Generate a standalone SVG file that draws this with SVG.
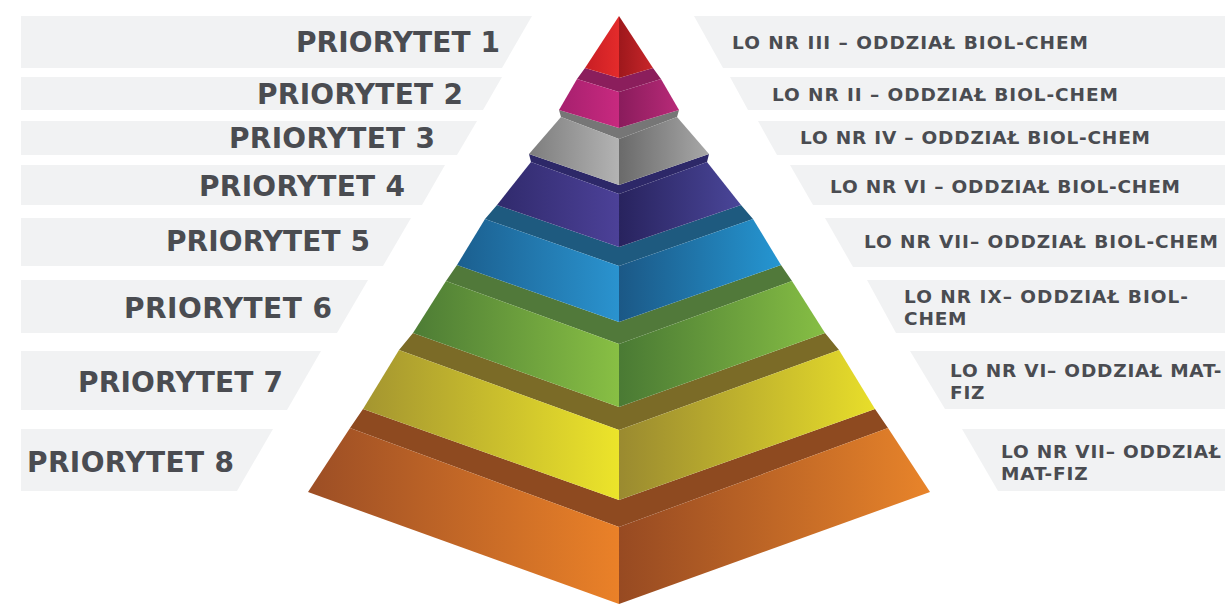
<svg xmlns="http://www.w3.org/2000/svg" width="1225" height="604" viewBox="0 0 1225 604">
<defs>
<style>
.bn{fill:#f1f2f3}
.lt{font-family:"DejaVu Sans","Liberation Sans",sans-serif;font-weight:bold;font-size:28px;fill:#4a4c51}
.rt{font-family:"DejaVu Sans","Liberation Sans",sans-serif;font-weight:bold;font-size:18.5px;fill:#4a4c51}
.ml{letter-spacing:0.8px}
</style>
<linearGradient id="oL" x1="0" x2="1" y1="0" y2="0"><stop offset="0" stop-color="#9c4e25"/><stop offset="1" stop-color="#ea8128"/></linearGradient>
<linearGradient id="oR" x1="0" x2="1" y1="0" y2="0"><stop offset="0" stop-color="#974a22"/><stop offset="1" stop-color="#e8842a"/></linearGradient>
<linearGradient id="yL" x1="0" x2="1" y1="0" y2="0"><stop offset="0" stop-color="#a49530"/><stop offset="1" stop-color="#ece42a"/></linearGradient>
<linearGradient id="yR" x1="0" x2="1" y1="0" y2="0"><stop offset="0" stop-color="#9a8a30"/><stop offset="1" stop-color="#e8de2a"/></linearGradient>
<linearGradient id="gL" x1="0" x2="1" y1="0" y2="0"><stop offset="0" stop-color="#4d7c35"/><stop offset="1" stop-color="#88bf44"/></linearGradient>
<linearGradient id="gR" x1="0" x2="1" y1="0" y2="0"><stop offset="0" stop-color="#4a7a34"/><stop offset="1" stop-color="#86be44"/></linearGradient>
<linearGradient id="bL" x1="0" x2="1" y1="0" y2="0"><stop offset="0" stop-color="#1b5f8f"/><stop offset="1" stop-color="#2a93cf"/></linearGradient>
<linearGradient id="bR" x1="0" x2="1" y1="0" y2="0"><stop offset="0" stop-color="#1b5886"/><stop offset="1" stop-color="#2596d2"/></linearGradient>
<linearGradient id="pL" x1="0" x2="1" y1="0" y2="0"><stop offset="0" stop-color="#302a6c"/><stop offset="1" stop-color="#4c4198"/></linearGradient>
<linearGradient id="pR" x1="0" x2="1" y1="0" y2="0"><stop offset="0" stop-color="#28235e"/><stop offset="1" stop-color="#4a4699"/></linearGradient>
<linearGradient id="sL" x1="0" x2="1" y1="0" y2="0"><stop offset="0" stop-color="#7d7d7d"/><stop offset="1" stop-color="#b3b3b3"/></linearGradient>
<linearGradient id="sR" x1="0" x2="1" y1="0" y2="0"><stop offset="0" stop-color="#6a6a6a"/><stop offset="1" stop-color="#a8a8a8"/></linearGradient>
<linearGradient id="mL" x1="0" x2="1" y1="0" y2="0"><stop offset="0" stop-color="#a6206e"/><stop offset="1" stop-color="#c8297f"/></linearGradient>
<linearGradient id="mR" x1="0" x2="1" y1="0" y2="0"><stop offset="0" stop-color="#8a1c5c"/><stop offset="1" stop-color="#b82a78"/></linearGradient>
<linearGradient id="rL" x1="0" x2="1" y1="0" y2="0"><stop offset="0" stop-color="#c81e24"/><stop offset="1" stop-color="#e42b2b"/></linearGradient>
<linearGradient id="rR" x1="0" x2="1" y1="0" y2="0"><stop offset="0" stop-color="#9e181c"/><stop offset="1" stop-color="#c8262a"/></linearGradient>
</defs>
<rect width="1225" height="604" fill="#ffffff"/>

<g id="left-labels">
<g id="label-p1"><polygon class="bn" points="21,16 532,16 502,68 21,68"/><text class="lt" x="296" y="52" textLength="204">PRIORYTET 1</text></g>
<g id="label-p2"><polygon class="bn" points="21,77 502,77 483,110 21,110"/><text class="lt" x="257" y="104" textLength="206">PRIORYTET 2</text></g>
<g id="label-p3"><polygon class="bn" points="21,121 477,121 457,155 21,155"/><text class="lt" x="229" y="148" textLength="206">PRIORYTET 3</text></g>
<g id="label-p4"><polygon class="bn" points="21,165 445,165 422,205 21,205"/><text class="lt" x="199" y="196" textLength="206">PRIORYTET 4</text></g>
<g id="label-p5"><polygon class="bn" points="21,218 411,218 383,266 21,266"/><text class="lt" x="166" y="251" textLength="204">PRIORYTET 5</text></g>
<g id="label-p6"><polygon class="bn" points="21,280 368,280 337,333 21,333"/><text class="lt" x="124" y="318" textLength="208">PRIORYTET 6</text></g>
<g id="label-p7"><polygon class="bn" points="21,351 321,351 287,410 21,410"/><text class="lt" x="78" y="392" textLength="205">PRIORYTET 7</text></g>
<g id="label-p8"><polygon class="bn" points="21,429 273,429 237,491 21,491"/><text class="lt" x="27" y="472" textLength="207">PRIORYTET 8</text></g>
</g>

<g id="right-labels">
<g id="school-1"><polygon class="bn" points="694,16 1225,16 1225,68 723,68"/><text class="rt" x="732" y="49" textLength="356">LO NR III – ODDZIAŁ BIOL-CHEM</text></g>
<g id="school-2"><polygon class="bn" points="730,77 1225,77 1225,110 748,110"/><text class="rt" x="772" y="101" textLength="346">LO NR II – ODDZIAŁ BIOL-CHEM</text></g>
<g id="school-3"><polygon class="bn" points="758,121 1225,121 1225,155 777,155"/><text class="rt" x="800" y="144" textLength="350">LO NR IV – ODDZIAŁ BIOL-CHEM</text></g>
<g id="school-4"><polygon class="bn" points="790,165 1225,165 1225,205 813,205"/><text class="rt" x="830" y="193" textLength="350">LO NR VI – ODDZIAŁ BIOL-CHEM</text></g>
<g id="school-5"><polygon class="bn" points="825,218 1225,218 1225,267 853,267"/><text class="rt" x="864" y="248" textLength="354">LO NR VII– ODDZIAŁ BIOL-CHEM</text></g>
<g id="school-6"><polygon class="bn" points="867,280 1225,280 1225,333 896,333"/><text class="rt" x="904" y="303" textLength="284">LO NR IX– ODDZIAŁ BIOL-</text><text class="rt ml" x="904" y="325">CHEM</text></g>
<g id="school-7"><polygon class="bn" points="910,351 1225,351 1225,409 945,409"/><text class="rt ml" x="950" y="377">LO NR VI– ODDZIAŁ MAT-</text><text class="rt ml" x="950" y="399">FIZ</text></g>
<g id="school-8"><polygon class="bn" points="962,429 1225,429 1225,491 998,491"/><text class="rt ml" x="1001" y="458">LO NR VII– ODDZIAŁ</text><text class="rt ml" x="1001" y="480">MAT-FIZ</text></g>
</g>

<g id="pyramid">
<g id="tier-8">
<polygon fill="#8e4a20" points="350,428 363,409 619,500 875,409 888,428 619,527"/>
<polygon fill="url(#oL)" points="350,428 308,492 619,604 619,527"/>
<polygon fill="url(#oR)" points="888,428 930,492 619,604 619,527"/>
</g>
<g id="tier-7">
<polygon fill="#7b6b27" points="399,350 413,333 619,407 825,333 839,350 619,430"/>
<polygon fill="url(#yL)" points="399,350 363,409 619,500 619,430"/>
<polygon fill="url(#yR)" points="839,350 875,409 619,500 619,430"/>
</g>
<g id="tier-6">
<polygon fill="#51793a" points="446,281 457,265 619,322 781,265 792,281 619,344"/>
<polygon fill="url(#gL)" points="446,281 413,333 619,407 619,344"/>
<polygon fill="url(#gR)" points="792,281 825,333 619,407 619,344"/>
</g>
<g id="tier-5">
<polygon fill="#1e5a7f" points="485,219 497,205 619,247 741,205 753,219 619,266"/>
<polygon fill="url(#bL)" points="485,219 457,265 619,322 619,266"/>
<polygon fill="url(#bR)" points="753,219 781,265 619,322 619,266"/>
</g>
<g id="tier-4">
<polygon fill="#2d2868" points="531,162 529,154 619,185 709,154 707,162 619,194"/>
<polygon fill="url(#pL)" points="531,162 497,205 619,247 619,194"/>
<polygon fill="url(#pR)" points="707,162 741,205 619,247 619,194"/>
</g>
<g id="tier-3">
<polygon fill="#767676" points="561,117 559,110 619,128 679,110 677,117 619,139"/>
<polygon fill="url(#sL)" points="561,117 529,154 619,185 619,139"/>
<polygon fill="url(#sR)" points="677,117 709,154 619,185 619,139"/>
</g>
<g id="tier-2">
<polygon fill="#8b1e5c" points="577,79 585,68 619,78 653,68 661,79 619,92"/>
<polygon fill="url(#mL)" points="577,79 559,110 619,128 619,92"/>
<polygon fill="url(#mR)" points="661,79 679,110 619,128 619,92"/>
</g>
<g id="tier-1">
<polygon fill="url(#rL)" points="619,16 585,68 619,78"/>
<polygon fill="url(#rR)" points="619,16 653,68 619,78"/>
</g>
</g>
</svg>
